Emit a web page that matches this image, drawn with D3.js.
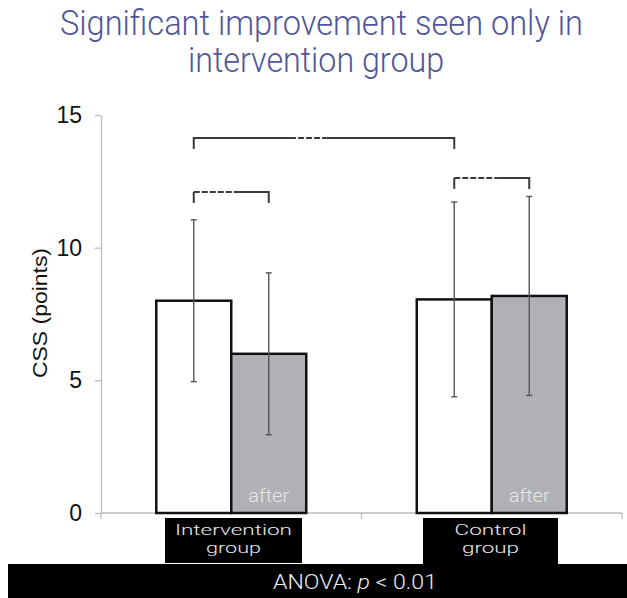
<!DOCTYPE html>
<html>
<head>
<meta charset="utf-8">
<script src="https://cdn.jsdelivr.net/npm/d3@7"></script>
<style>
  body { margin: 0; background: #fff; }
  svg { display: block; }
</style>
</head>
<body>
<div id="chart"></div>
<script>
// values
const groups = ['Intervention group', 'Control group'];
const groupLines = [['Intervention', 'group'], ['Control', 'group']];
const phases = ['before', 'after'];
const means = [[8.0, 6.0], [8.05, 8.18]];
const sds = [[3.05, 3.05], [3.67, 3.75]];
const yTicks = [0, 5, 10, 15];
// brackets: [group, phase] at each end, level in points, dashed part as a share of the span
const brackets = [
  { from: [0, 0], to: [1, 0], level: 14.13, dash: [0.37, 0.51] },
  { from: [0, 0], to: [0, 1], level: 12.1, dash: [0, 0.55] },
  { from: [1, 0], to: [1, 1], level: 12.63, dash: [0, 0.58] }
];

let width = 627;
let height = 598;
let lightFont = 'Roboto, "Noto Sans", sans-serif';
let axisFont = '"Liberation Sans", Arial, sans-serif';

let svg = d3.select('#chart').append('svg')
  .attr('width', width)
  .attr('height', height);

// title, squeezed to the width of the original condensed face
let titleLines = [
  { t: 'Significant improvement seen only in', cx: 321.5, y: 35, w: 523 },
  { t: 'intervention group', cx: 316, y: 72, w: 256 }
];
svg.selectAll('.title')
  .data(titleLines)
  .enter().append('text')
  .attr('x', d => d.cx).attr('y', d => d.y)
  .attr('text-anchor', 'middle')
  .attr('textLength', d => d.w)
  .attr('lengthAdjust', 'spacingAndGlyphs')
  .style('font-family', lightFont)
  .style('font-weight', 300)
  .style('font-size', '35px')
  .attr('fill', '#50569b')
  .text(d => d.t);

let y = d3.scaleLinear().domain([0, 15]).range([513, 115]);

let x0 = d3.scaleBand().domain(groups).range([101, 622]).padding(0);
let x1 = d3.scaleBand().domain(phases).range([0, x0.bandwidth()])
  .paddingInner(0).paddingOuter(0.737);

let barCenter = (g, p) => x0(groups[g]) + x1(phases[p]) + x1.bandwidth() / 2;

// y axis
let yAxis = svg.append('g')
  .attr('transform', 'translate(101,0)')
  .call(d3.axisLeft(y).tickValues(yTicks).tickSize(6).tickPadding(13).tickSizeOuter(0));
yAxis.select('.domain').attr('stroke', '#bdbdbd').attr('stroke-width', 1.3);
yAxis.selectAll('.tick line').attr('stroke', '#bdbdbd').attr('stroke-width', 1.3);
yAxis.selectAll('.tick text')
  .style('font-family', axisFont)
  .style('font-size', '23px')
  .attr('fill', '#111');

svg.append('text')
  .attr('transform', 'translate(47,313) rotate(-90)')
  .attr('text-anchor', 'middle')
  .attr('textLength', 130)
  .attr('lengthAdjust', 'spacingAndGlyphs')
  .style('font-family', axisFont)
  .style('font-size', '21px')
  .attr('fill', '#111')
  .text('CSS (points)');

// x axis with ticks on group boundaries
let xEdges = groups.map(g => x0(g)).concat([x0.range()[1]]);
svg.append('line')
  .attr('x1', x0.range()[0]).attr('x2', x0.range()[1])
  .attr('y1', y(0)).attr('y2', y(0))
  .attr('stroke', '#bdbdbd').attr('stroke-width', 1.3);
svg.selectAll('.xtick')
  .data(xEdges)
  .enter().append('line')
  .attr('class', 'xtick')
  .attr('x1', d => d).attr('x2', d => d)
  .attr('y1', y(0)).attr('y2', y(0) + 6)
  .attr('stroke', '#bdbdbd').attr('stroke-width', 1.3);

// bars
let barData = [];
groups.forEach((g, gi) => phases.forEach((p, pi) => {
  barData.push({ g: gi, p: pi, mean: means[gi][pi], sd: sds[gi][pi] });
}));

svg.selectAll('.bar')
  .data(barData)
  .enter().append('rect')
  .attr('class', 'bar')
  .attr('x', d => x0(groups[d.g]) + x1(phases[d.p]))
  .attr('y', d => y(d.mean))
  .attr('width', x1.bandwidth())
  .attr('height', d => y(0) - y(d.mean))
  .attr('fill', d => d.p === 0 ? '#fff' : '#b1b1b5')
  .attr('stroke', '#111')
  .attr('stroke-width', 2.5);

svg.selectAll('.after')
  .data(barData.filter(d => d.p === 1))
  .enter().append('text')
  .attr('x', d => barCenter(d.g, d.p))
  .attr('y', 502)
  .attr('text-anchor', 'middle')
  .attr('textLength', 41)
  .attr('lengthAdjust', 'spacingAndGlyphs')
  .style('font-family', lightFont)
  .style('font-weight', 300)
  .style('font-size', '19px')
  .attr('fill', '#e6e6e6')
  .text('after');

// error bars
let err = svg.selectAll('.err')
  .data(barData)
  .enter().append('g')
  .attr('stroke', '#555')
  .attr('stroke-width', 1.4);
err.append('line')
  .attr('x1', d => barCenter(d.g, d.p)).attr('x2', d => barCenter(d.g, d.p))
  .attr('y1', d => y(d.mean + d.sd)).attr('y2', d => y(d.mean - d.sd));
err.selectAll('.cap')
  .data(d => [d.mean + d.sd, d.mean - d.sd].map(v => ({ x: barCenter(d.g, d.p), v: v })))
  .enter().append('line')
  .attr('x1', d => d.x - 3).attr('x2', d => d.x + 3)
  .attr('y1', d => y(d.v)).attr('y2', d => y(d.v));

// brackets
brackets.forEach(b => {
  let xa = barCenter(b.from[0], b.from[1]);
  let xb = barCenter(b.to[0], b.to[1]);
  let yy = y(b.level);
  let da = xa + (xb - xa) * b.dash[0];
  let db = xa + (xb - xa) * b.dash[1];
  let g = svg.append('g').attr('stroke', '#3a3a3a').attr('stroke-width', 2).attr('fill', 'none');
  g.append('path').attr('d', `M${xa},${yy + 11}V${yy}H${da}`);
  g.append('line').attr('x1', da).attr('x2', db).attr('y1', yy).attr('y2', yy)
    .attr('stroke-dasharray', '6,2');
  g.append('path').attr('d', `M${db},${yy}H${xb}V${yy + 11}`);
});

// category label boxes
svg.append('rect')
  .attr('x', 8).attr('y', 564).attr('width', 619).attr('height', 34)
  .attr('fill', '#000');

let boxes = [
  { x: 165, w: 137, h: 45 },
  { x: 423, w: 135, h: 50 }
];
let lineWidths = [[117, 55], [72, 57]];
svg.selectAll('.gbox')
  .data(boxes)
  .enter().append('rect')
  .attr('x', d => d.x).attr('y', 518)
  .attr('width', d => d.w).attr('height', d => d.h)
  .attr('fill', '#000');

let labelData = [];
groups.forEach((g, gi) => groupLines[gi].forEach((t, li) => {
  labelData.push({ t: t, cx: boxes[gi].x + boxes[gi].w / 2, y: 535 + li * 18, w: lineWidths[gi][li] });
}));
svg.selectAll('.glabel')
  .data(labelData)
  .enter().append('text')
  .attr('x', d => d.cx).attr('y', d => d.y)
  .attr('text-anchor', 'middle')
  .attr('textLength', d => d.w)
  .attr('lengthAdjust', 'spacingAndGlyphs')
  .style('font-family', lightFont)
  .style('font-weight', 300)
  .style('font-size', '15.5px')
  .attr('fill', '#e8e8e8')
  .text(d => d.t);

let anova = svg.append('text')
  .attr('x', 355).attr('y', 589)
  .attr('text-anchor', 'middle')
  .attr('textLength', 164)
  .attr('lengthAdjust', 'spacingAndGlyphs')
  .style('font-family', lightFont)
  .style('font-weight', 300)
  .style('font-size', '21px')
  .attr('fill', '#eeeeee');
anova.append('tspan').text('ANOVA: ');
anova.append('tspan').style('font-style', 'italic').text('p');
anova.append('tspan').text(' < 0.01');
</script>
</body>
</html>
